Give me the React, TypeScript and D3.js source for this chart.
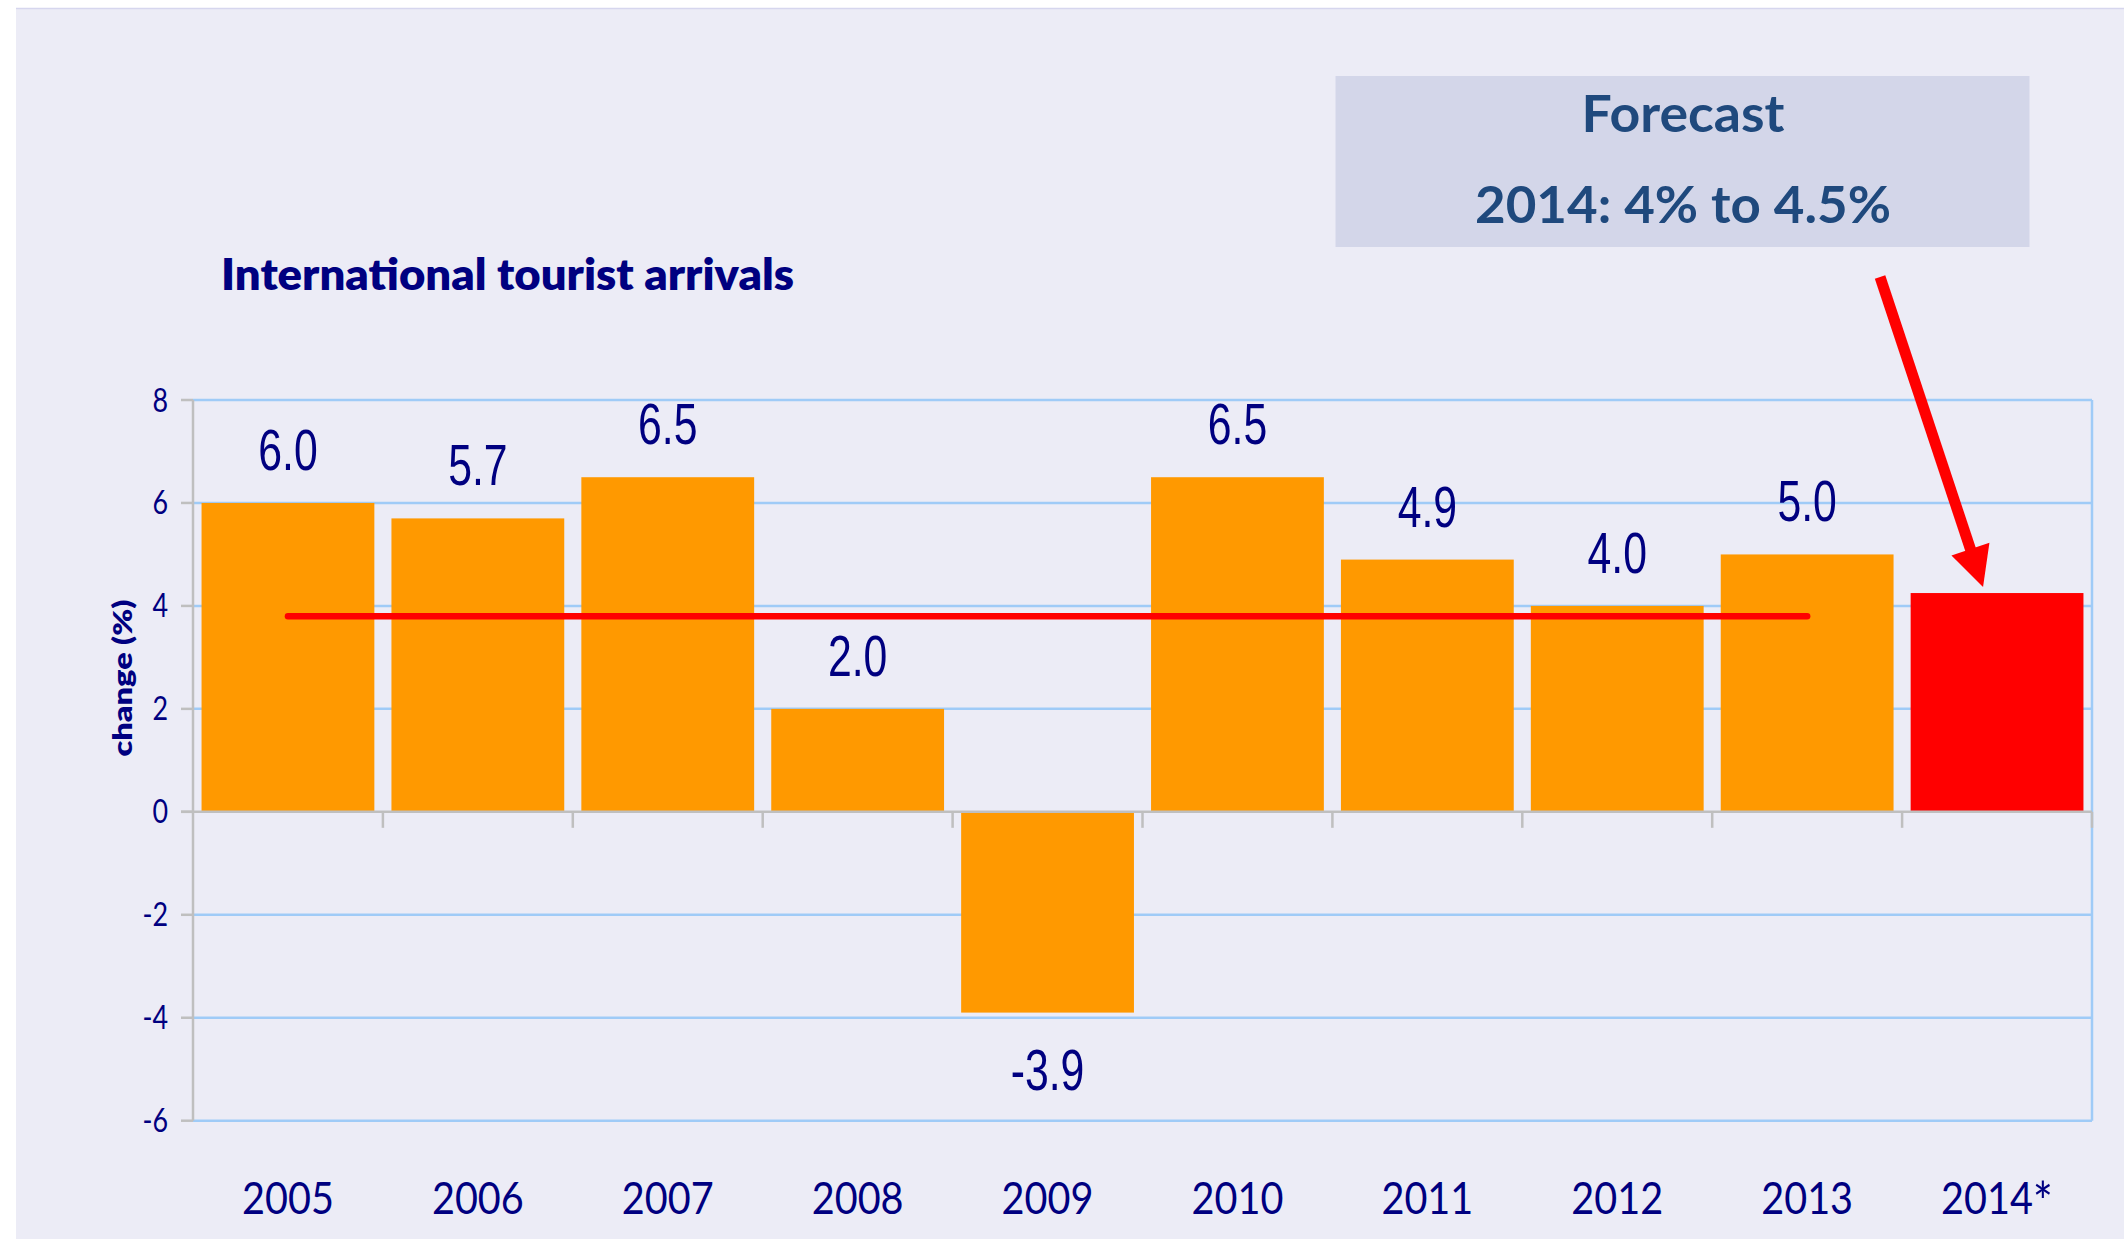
import React from 'react';
import * as d3 from 'd3';

const years = ['2005', '2006', '2007', '2008', '2009', '2010', '2011', '2012', '2013', '2014*'];
const changes = [6.0, 5.7, 6.5, 2.0, -3.9, 6.5, 4.9, 4.0, 5.0, 4.25];
const valueLabels = ['6.0', '5.7', '6.5', '2.0', '-3.9', '6.5', '4.9', '4.0', '5.0', ''];
const forecastYear = '2014*';
const averageValue = 3.8;
const averageFrom = '2005';
const averageTo = '2013';
const yTicks = [-6, -4, -2, 0, 2, 4, 6, 8];
const titleText = 'International tourist arrivals';
const yAxisTitle = 'change (%)';
const forecastLines = ['Forecast', '2014: 4% to 4.5%'];

const W = 2124;
const H = 1239;
const plotLeft = 193;
const plotRight = 2092;
const plotTop = 400;
const plotBottom = 1120.7;

const NAVY = '#000080';
const GRID = '#9FCBF7';
const AXIS = '#BFBFBF';
const ORANGE = '#FF9900';
const RED = '#FF0000';

export default function App() {
  const y = d3.scaleLinear().domain([-6, 8]).range([plotBottom, plotTop]);
  const x = d3
    .scaleBand<string>()
    .domain(years)
    .range([plotLeft, plotRight])
    .paddingInner(0.09)
    .paddingOuter(0.045);
  const bw = x.bandwidth();
  const step = x.step();
  const y0 = y(0);

  // Arrow geometry anchored to forecast bar
  const fIdx = years.indexOf(forecastYear);
  const tipX = (x(forecastYear) as number) + bw / 2 - 14;
  const tipY = y(changes[fIdx]) - 6;
  const startX = tipX - 103;
  const startY = 277;
  const dx = tipX - startX;
  const dy = tipY - startY;
  const len = Math.sqrt(dx * dx + dy * dy);
  const ux = dx / len;
  const uy = dy / len;
  const headLen = 40;
  const headHalf = 20;
  const baseX = tipX - ux * headLen;
  const baseY = tipY - uy * headLen;
  const px = -uy;
  const py = ux;
  const headPts = [
    [tipX, tipY],
    [baseX + px * headHalf, baseY + py * headHalf],
    [baseX - px * headHalf, baseY - py * headHalf],
  ]
    .map((p) => p.join(','))
    .join(' ');

  const avgX1 = (x(averageFrom) as number) + bw / 2;
  const avgX2 = (x(averageTo) as number) + bw / 2;

  return (
    <svg
      width={W}
      height={H}
      style={{ position: 'absolute', left: 0, top: 0, display: 'block' }}
    >
      <rect x={0} y={0} width={W} height={H} fill="#FFFFFF" />
      <rect x={16} y={8} width={W - 16} height={H - 8} fill="#ECECF6" />
      <line x1={16} x2={W} y1={8.5} y2={8.5} stroke="#D6D6EE" strokeWidth={1.5} />

      {/* Title */}
      <text
        x={221}
        y={290}
        fontFamily="Lato, 'Open Sans', sans-serif"
        fontWeight={800}
        fontSize={44}
        fill={NAVY}
        textLength={573}
        lengthAdjust="spacingAndGlyphs"
      >
        {titleText}
      </text>

      {/* Forecast box */}
      <rect x={1335.5} y={76} width={694} height={171} fill="#D3D6E9" />
      <text
        x={1683}
        y={132}
        textAnchor="middle"
        fontFamily="Lato, 'Open Sans', sans-serif"
        fontWeight={700}
        fontSize={51}
        fill="#1F497D"
        textLength={203}
        lengthAdjust="spacingAndGlyphs"
      >
        {forecastLines[0]}
      </text>
      <text
        x={1683}
        y={223}
        textAnchor="middle"
        fontFamily="Lato, 'Open Sans', sans-serif"
        fontWeight={700}
        fontSize={52}
        fill="#1F497D"
        textLength={416}
        lengthAdjust="spacingAndGlyphs"
      >
        {forecastLines[1]}
      </text>

      {/* Gridlines */}
      {yTicks
        .filter((t) => t !== 0)
        .map((t) => (
          <line
            key={'g' + t}
            x1={plotLeft}
            x2={plotRight}
            y1={y(t)}
            y2={y(t)}
            stroke={GRID}
            strokeWidth={2.5}
          />
        ))}
      <line x1={plotRight} x2={plotRight} y1={plotTop} y2={plotBottom} stroke={GRID} strokeWidth={2.5} />

      {/* Bars */}
      {years.map((yr, i) => {
        const v = changes[i];
        const top = Math.min(y(v), y0);
        const h = Math.abs(y(v) - y0);
        return (
          <rect
            key={'b' + yr}
            x={x(yr) as number}
            y={top}
            width={bw}
            height={h}
            fill={yr === forecastYear ? RED : ORANGE}
          />
        );
      })}

      {/* Axes */}
      <line x1={plotLeft} x2={plotLeft} y1={plotTop} y2={plotBottom} stroke={AXIS} strokeWidth={2.5} />
      {yTicks.map((t) => (
        <line
          key={'yt' + t}
          x1={plotLeft - 12}
          x2={plotLeft}
          y1={y(t)}
          y2={y(t)}
          stroke={AXIS}
          strokeWidth={2.5}
        />
      ))}
      <line x1={plotLeft - 12} x2={plotRight} y1={y0} y2={y0} stroke={AXIS} strokeWidth={2.5} />
      {d3.range(1, years.length + 1).map((k) => (
        <line
          key={'xt' + k}
          x1={plotLeft + k * step}
          x2={plotLeft + k * step}
          y1={y0}
          y2={y0 + 16}
          stroke={AXIS}
          strokeWidth={2.5}
        />
      ))}

      {/* Average line */}
      <line
        x1={avgX1}
        x2={avgX2}
        y1={y(averageValue)}
        y2={y(averageValue)}
        stroke={RED}
        strokeWidth={6.5}
        strokeLinecap="round"
      />

      {/* Data labels */}
      {years.map((yr, i) => {
        const v = changes[i];
        const lbl = valueLabels[i];
        if (!lbl) return null;
        const cx = (x(yr) as number) + bw / 2;
        const by = v >= 0 ? y(v) - 33 : y(v) + 77;
        return (
          <g key={'l' + yr} transform={`translate(${cx},${by}) scale(0.75,1)`}>
            <text
              x={0}
              y={0}
              textAnchor="middle"
              fontFamily="'Liberation Sans', Arial, sans-serif"
              fontSize={57}
              fill={NAVY}
            >
              {lbl}
            </text>
          </g>
        );
      })}

      {/* Y tick labels */}
      {yTicks.map((t) => (
        <g key={'yl' + t} transform={`translate(168,${y(t)}) scale(0.84,1)`}>
          <text
            x={0}
            y={0}
            dy="0.36em"
            textAnchor="end"
            fontFamily="Lato, 'Open Sans', sans-serif"
            fontSize={32}
            fill={NAVY}
          >
            {t}
          </text>
        </g>
      ))}

      {/* Year labels */}
      {years.map((yr) => {
        const base = yr.replace('*', '');
        const star = yr.endsWith('*');
        return (
          <g
            key={'xl' + yr}
            transform={`translate(${(x(yr) as number) + bw / 2},1214) scale(0.88,1)`}
          >
            <text
              x={0}
              y={0}
              textAnchor="middle"
              fontFamily="Lato, 'Open Sans', sans-serif"
              fontSize={45}
              fill={NAVY}
            >
              {base}
              {star ? (
                <tspan fontSize={54} dy={7}>
                  *
                </tspan>
              ) : null}
            </text>
          </g>
        );
      })}

      {/* Y axis title */}
      <text
        transform={`translate(132,${678}) rotate(-90)`}
        textAnchor="middle"
        fontFamily="Lato, 'Open Sans', sans-serif"
        fontWeight={800}
        fontSize={27}
        fill={NAVY}
        textLength={157}
        lengthAdjust="spacingAndGlyphs"
      >
        {yAxisTitle}
      </text>

      {/* Arrow */}
      <line x1={startX} y1={startY} x2={baseX + ux * 2} y2={baseY + uy * 2} stroke={RED} strokeWidth={11} />
      <polygon points={headPts} fill={RED} />
    </svg>
  );
}
